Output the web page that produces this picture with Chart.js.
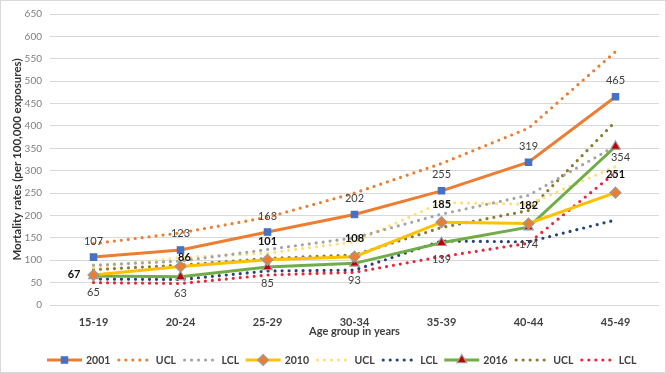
<html lang="en">
<head>
  <meta charset="utf-8" />
  <title>Mortality rates by age group</title>
  <script src="https://cdn.jsdelivr.net/npm/chart.js@4.4.1/dist/chart.umd.min.js"></script>
  <style>
    * { margin: 0; padding: 0; box-sizing: border-box; }
    body { background: #ffffff; width: 666px; height: 373px; overflow: hidden; }
    canvas { display: block; }
  </style>
</head>
<body>
  <canvas id="chart" width="666" height="373"></canvas>
  <script>
    const ageGroups = ["15-19", "20-24", "25-29", "30-34", "35-39", "40-44", "45-49"];

    const rate2001 = [107, 123, 163, 202, 255, 319, 465];
    const ucl2001 = [137, 161, 196, 250, 316, 395, 566];
    const lcl2001 = [89, 98, 124, 150, 203, 245, 355];

    const rate2010 = [67, 86, 101, 108, 185, 182, 251];
    const ucl2010 = [84, 106, 116, 141, 229, 225, 309];
    const lcl2010 = [58, 57, 76, 78, 143, 141, 190];

    const rate2016 = [65, 63, 85, 93, 139, 174, 354];
    const ucl2016 = [79, 89, 104, 112, 173, 211, 410];
    const lcl2016 = [50, 48, 67, 73, 108, 138, 296];

    const FONT = "Lato, Carlito, 'Open Sans', sans-serif";
    const DOT = [0, 7];

    function solid(label, data, color, style, fill, order) {
      return {
        label: label, data: data, borderColor: color, borderWidth: 3,
        pointStyle: style, pointRadius: style === "rect" ? 4.5 : 5.5,
        pointBackgroundColor: fill, pointBorderColor: style === "rect" ? fill : "#9a9a9a",
        pointBorderWidth: 1.2, tension: 0, order: order,
      };
    }
    function dotted(label, data, color, order) {
      return {
        label: label, data: data, borderColor: color, borderWidth: 3.2,
        borderDash: DOT, borderCapStyle: "round", pointRadius: 0, tension: 0, order: order,
      };
    }

    const datasets = [
      solid("2001", rate2001, "#ED7D31", "rect", "#4472C4", 1),
      dotted("UCL", ucl2001, "#ED7D31", 10),
      dotted("LCL", lcl2001, "#A5A5A5", 10),
      solid("2010", rate2010, "#FFC000", "rectRot", "#ED7D31", 2),
      dotted("UCL", ucl2010, "#FFE07A", 10),
      dotted("LCL", lcl2010, "#264478", 10),
      solid("2016", rate2016, "#70AD47", "triangle", "#C00000", 3),
      dotted("UCL", ucl2016, "#8C7A2E", 10),
      dotted("LCL", lcl2016, "#E8283A", 10),
    ];

    // label settings for the three main series: offset and a few exceptions
    datasets[0].labelStyle = { font: "11px " + FONT, color: "#404040", dy: -16 };
    datasets[3].labelStyle = { font: "bold 11px " + FONT, color: "#111111", dy: -18,
      special: { 0: [-13, -1, "right"], 1: [4, -9] } };
    datasets[6].labelStyle = { font: "11px " + FONT, color: "#404040", dy: 17,
      special: { 6: [5, 11] } };

    const pointLabels = {
      id: "pointLabels",
      afterDatasetsDraw(chart) {
        const ctx = chart.ctx;
        chart.data.datasets.forEach((ds, i) => {
          const st = ds.labelStyle;
          if (!st) return;
          const meta = chart.getDatasetMeta(i);
          ctx.save();
          ctx.font = st.font;
          ctx.fillStyle = st.color;
          ctx.textBaseline = "middle";
          meta.data.forEach((pt, j) => {
            let dx = 0, dy = st.dy, align = "center";
            if (st.special && st.special[j]) {
              dx = st.special[j][0];
              dy = st.special[j][1];
              align = st.special[j][2] || "center";
            }
            ctx.textAlign = align;
            ctx.fillText(String(ds.data[j]), pt.x + dx, pt.y + dy);
          });
          ctx.restore();
        });
      },
    };

    const frameAndLegend = {
      id: "frameAndLegend",
      beforeDraw(chart) {
        const ctx = chart.ctx;
        ctx.save();
        ctx.fillStyle = "#ffffff";
        ctx.fillRect(0, 0, chart.width, chart.height);
        ctx.restore();
      },
      afterDraw(chart) {
        const ctx = chart.ctx;
        ctx.save();
        ctx.strokeStyle = "#D9D9D9";
        ctx.lineWidth = 1;
        ctx.strokeRect(0.5, 0.5, chart.width - 1, chart.height - 1);

        ctx.font = "bold 10.5px " + FONT;
        const sample = 35, gap = 4, after = 6.5;
        const items = chart.data.datasets;
        let x = 47;
        const y = 360;
        items.forEach((ds) => {
          ctx.save();
          ctx.strokeStyle = ds.borderColor;
          ctx.lineWidth = ds.borderWidth;
          ctx.setLineDash(ds.borderDash || []);
          ctx.lineCap = ds.borderCapStyle || "butt";
          ctx.beginPath();
          ctx.moveTo(x + (ds.borderDash ? 2 : 0), y);
          ctx.lineTo(x + sample, y);
          ctx.stroke();
          ctx.restore();
          if (ds.pointRadius > 0) {
            ctx.save();
            ctx.fillStyle = ds.pointBackgroundColor;
            ctx.strokeStyle = ds.pointBorderColor;
            ctx.lineWidth = ds.pointBorderWidth;
            Chart.helpers.drawPoint(ctx, { pointStyle: ds.pointStyle, radius: ds.pointRadius, rotation: 0, borderWidth: ds.pointBorderWidth }, x + sample / 2, y);
            ctx.restore();
          }
          ctx.fillStyle = "#404040";
          ctx.textAlign = "left";
          ctx.textBaseline = "middle";
          ctx.fillText(ds.label, x + sample + gap, y + 0.5);
          x += sample + gap + ctx.measureText(ds.label).width + after;
        });
        ctx.restore();
      },
    };

    new Chart(document.getElementById("chart"), {
      type: "line",
      data: { labels: ageGroups, datasets: datasets },
      plugins: [frameAndLegend, pointLabels],
      options: {
        responsive: false,
        animation: false,
        layout: { padding: { top: 12, right: 7, bottom: 35, left: 0 } },
        plugins: { legend: { display: false }, tooltip: { enabled: false } },
        scales: {
          x: {
            offset: true,
            grid: { display: false },
            border: { display: false },
            ticks: { font: { family: FONT, size: 11, weight: "bold" }, color: "#404040", padding: 3 },
            title: {
              display: true, text: "Age group in years", color: "#404040",
              font: { family: FONT, size: 11, weight: "bold" }, padding: { top: 0, bottom: 0 },
            },
            afterFit(scale) { scale.height = 33; },
          },
          y: {
            min: 0, max: 650,
            ticks: { stepSize: 50, font: { family: FONT, size: 10 }, color: "#7f7f7f", padding: 8 },
            grid: { color: "#D9D9D9", drawTicks: false },
            border: { display: false },
            title: {
              display: true, text: "Mortality rates (per 100,000 exposures)", color: "#333333",
              font: { family: FONT, size: 11.5, weight: "bold" }, padding: { top: 10, bottom: 0 },
            },
            afterFit(scale) { scale.width = 50; },
          },
        },
      },
    });
  </script>
</body>
</html>
